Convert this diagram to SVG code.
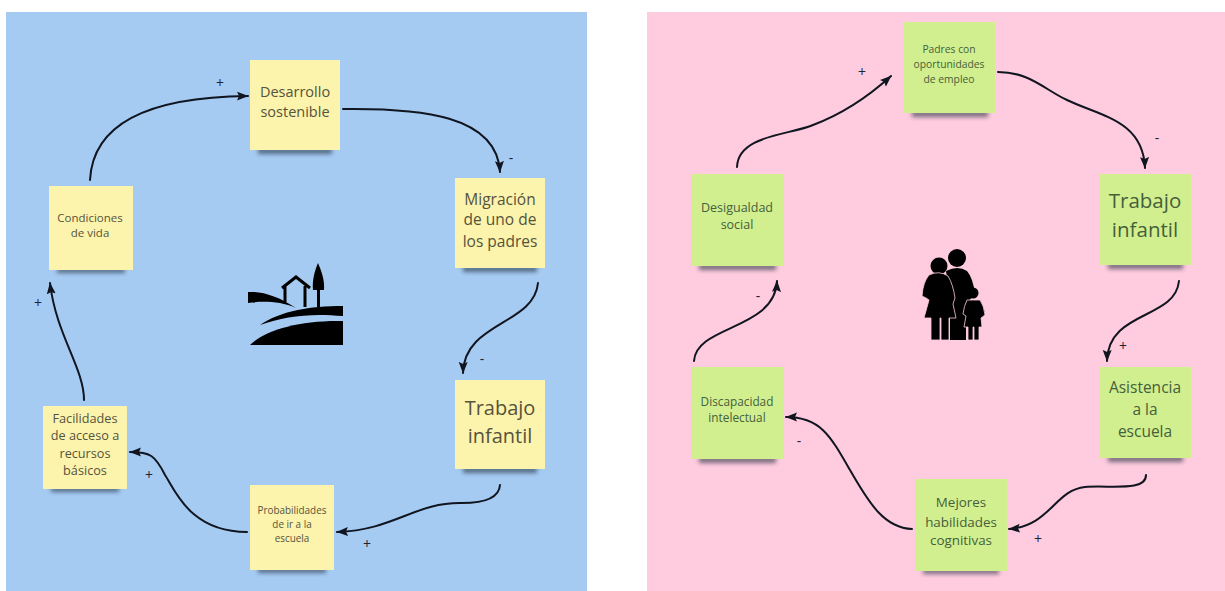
<svg xmlns="http://www.w3.org/2000/svg" width="1225" height="591" viewBox="0 0 1225 591">
<style>
.y{fill:#fcf3ad}.g{fill:#d2ef90}
.s{fill:#1f2a38;opacity:.6;filter:url(#b)}
text{font-family:"Open Sans","Noto Sans","Liberation Sans",sans-serif;text-anchor:middle}
.ty{fill:#55543c}.tg{fill:#45603a}
.c{fill:none;stroke:#10151f;stroke-width:2;stroke-linecap:round}
.l{font-size:14px;fill:#1d2430}
</style>
<defs>
<filter id="b" x="-20%" y="-100%" width="140%" height="300%"><feGaussianBlur stdDeviation="2"/></filter>
<marker id="a" markerUnits="userSpaceOnUse" markerWidth="13" markerHeight="10" refX="11" refY="5" orient="auto"><path d="M0 0.5L11.5 5L0 9.5L2 5Z" fill="#10151f"/></marker>
</defs>
<rect width="1225" height="591" fill="#fff"/>
<rect x="6" y="12" width="581" height="579" fill="#a6cbf3"/>
<rect x="647" y="12" width="578" height="579" fill="#fecbdf"/>

<g id="connectors">
<path class="c" marker-end="url(#a)" d="M90 180C93 122 150 97 248 96"/>
<path class="c" marker-end="url(#a)" d="M343 109C420 108 497 115 500 172"/>
<path class="c" marker-end="url(#a)" d="M538 283C534 325 464 322 463 373"/>
<path class="c" marker-end="url(#a)" d="M500 485C499 500 480 503 462 503C415 502 395 530 337 532"/>
<path class="c" marker-end="url(#a)" d="M247 532C190 532 175 490 165 475C155 455 150 452 130 452"/>
<path class="c" marker-end="url(#a)" d="M84 400C84 368 56 335 50 283"/>
<path class="c" marker-end="url(#a)" d="M737 167C738 135 790 135 813 125C845 113 870 95 891 76"/>
<path class="c" marker-end="url(#a)" d="M998 72C1030 72 1045 90 1067 100C1100 116 1143 120 1145 168"/>
<path class="c" marker-end="url(#a)" d="M1179 281C1175 320 1108 310 1107 361"/>
<path class="c" marker-end="url(#a)" d="M1146 475C1146 492 1110 485 1085 487C1055 490 1050 526 1009 529"/>
<path class="c" marker-end="url(#a)" d="M912 529C885 528 870 505 850 470C830 435 820 417 786 417"/>
<path class="c" marker-end="url(#a)" d="M694 361C696 325 775 330 777 281"/>
</g>

<g id="sign-labels">
<text class="l" x="220" y="88">+</text>
<text class="l" x="511" y="163">-</text>
<text class="l" x="482" y="364">-</text>
<text class="l" x="367" y="549">+</text>
<text class="l" x="149" y="480">+</text>
<text class="l" x="38" y="308">+</text>
<text class="l" x="862" y="77">+</text>
<text class="l" x="1157" y="143">-</text>
<text class="l" x="1123" y="351">+</text>
<text class="l" x="1038" y="544">+</text>
<text class="l" x="799" y="446">-</text>
<text class="l" x="758" y="301">-</text>
</g>

<g id="n1"><rect class="s" x="258" y="148" width="74" height="6"/><rect class="y" x="250" y="60" width="90" height="90"/><g class="ty" font-size="14.5"><text x="295" y="97">Desarrollo</text><text x="295" y="117">sostenible</text></g></g>
<g id="n2"><rect class="s" x="463" y="266" width="74" height="6"/><rect class="y" x="455" y="178" width="90" height="90"/><g class="ty" font-size="15.5"><text x="500" y="205">Migración</text><text x="500" y="225">de uno de</text><text x="500" y="247">los padres</text></g></g>
<g id="n3"><rect class="s" x="463" y="467" width="74" height="6"/><rect class="y" x="455" y="380" width="90" height="89"/><g class="ty" font-size="20"><text x="500" y="415">Trabajo</text><text x="500" y="443">infantil</text></g></g>
<g id="n4"><rect class="s" x="258" y="568" width="68" height="5"/><rect class="y" x="250" y="485" width="84" height="85"/><g class="ty" font-size="9.9"><text x="292" y="514">Probabilidades</text><text x="292" y="528">de ir a la</text><text x="292" y="542">escuela</text></g></g>
<g id="n5"><rect class="s" x="51" y="487" width="68" height="5"/><rect class="y" x="43" y="406" width="84" height="83"/><g class="ty" font-size="12.7"><text x="85" y="423">Facilidades</text><text x="85" y="440">de acceso a</text><text x="85" y="458">recursos</text><text x="85" y="475">básicos</text></g></g>
<g id="n6"><rect class="s" x="57" y="268" width="68" height="5"/><rect class="y" x="49" y="186" width="84" height="84"/><g class="ty" font-size="11.5"><text x="90" y="222">Condiciones</text><text x="90" y="237">de vida</text></g></g>

<g id="house" fill="#000">
<path d="M248 292C262 291 278 296 296 308C280 301 262 301 248 303Z"/>
<path d="M260 325C280 311 310 306 343 306V316C310 313 285 316 260 325Z"/>
<path d="M250 345C265 330 300 320 343 321V345Z"/>
<path d="M282 288L296 277L310 288M285 286V302M305 286V307" fill="none" stroke="#000" stroke-width="3"/>
<path d="M318 263C321 270 325 280 324 290H320V307H317V290H313C312 280 315 270 318 263Z"/>
</g>

<g id="p1"><rect class="s" x="912" y="111" width="76" height="6"/><rect class="g" x="904" y="22" width="91" height="91"/><g class="tg" font-size="10.3"><text x="949" y="53">Padres con</text><text x="949" y="68">oportunidades</text><text x="949" y="83">de empleo</text></g></g>
<g id="p2"><rect class="s" x="1108" y="263" width="75" height="6"/><rect class="g" x="1100" y="174" width="91" height="91"/><g class="tg" font-size="20.5"><text x="1145" y="208">Trabajo</text><text x="1145" y="237">infantil</text></g></g>
<g id="p3"><rect class="s" x="1108" y="456" width="75" height="6"/><rect class="g" x="1100" y="367" width="91" height="91"/><g class="tg" font-size="15.5"><text x="1145" y="393">Asistencia</text><text x="1145" y="415">a la</text><text x="1145" y="437">escuela</text></g></g>
<g id="p4"><rect class="s" x="923" y="569" width="76" height="5"/><rect class="g" x="915" y="479" width="92" height="92"/><g class="tg" font-size="13.4"><text x="961" y="507">Mejores</text><text x="961" y="527">habilidades</text><text x="961" y="545">cognitivas</text></g></g>
<g id="p5"><rect class="s" x="699" y="457" width="77" height="6"/><rect class="g" x="691" y="367" width="93" height="92"/><g class="tg" font-size="11.8"><text x="737" y="406">Discapacidad</text><text x="737" y="422">intelectual</text></g></g>
<g id="p6"><rect class="s" x="699" y="264" width="77" height="6"/><rect class="g" x="691" y="174" width="93" height="92"/><g class="tg" font-size="12.5"><text x="737" y="212">Desigualdad</text><text x="737" y="229">social</text></g></g>

<g id="family" fill="#000">
<circle cx="957" cy="258" r="9"/>
<path d="M946 271Q958 265 967 271Q973 278 975 294L966 304V340H950V300Z"/>
<circle cx="939" cy="266" r="8.5"/>
<path stroke="#fecbdf" stroke-width=".8" d="M929 275Q939 270 948 276Q953 284 955 298L953 304L956 318H949V340H941V318H940V340H931V318H924L929 300L926 298L922 296Q923 282 929 275Z"/>
<circle cx="973" cy="293" r="5.5"/>
<path stroke="#fecbdf" stroke-width=".8" d="M967 300H980Q984 306 985 315L981 318L982 327H979V340H974V327H973V340H968V327H964L966 316L963 314Q964 306 967 300Z"/>
</g>
</svg>
